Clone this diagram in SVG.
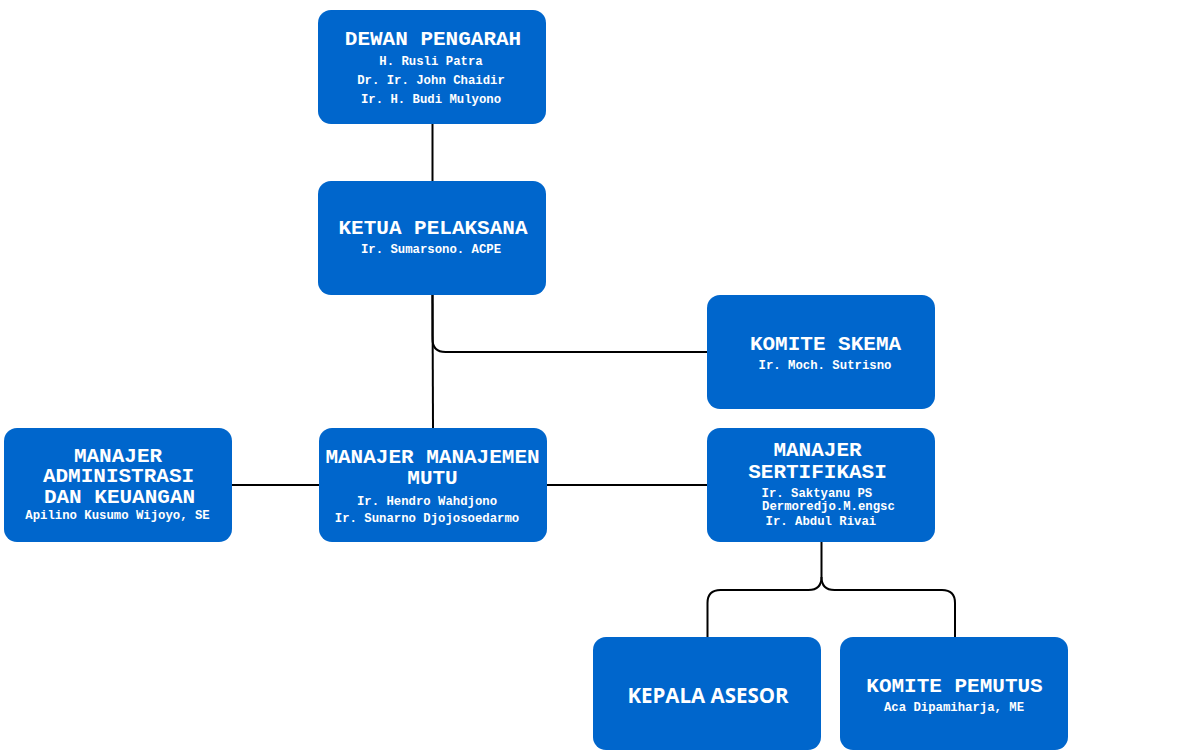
<svg xmlns="http://www.w3.org/2000/svg" width="1182" height="751" viewBox="0 0 1182 751">
<style>
.box{fill:#0066cc}
.t{font-family:"Liberation Mono","DejaVu Sans Mono",monospace;font-weight:bold;font-size:21px;fill:#ffffff;text-anchor:middle}
.s{font-family:"Liberation Mono","DejaVu Sans Mono",monospace;font-weight:bold;font-size:12.3px;fill:#ffffff;text-anchor:middle}
.sl{text-anchor:start}
.p{font-family:"Open Sans","DejaVu Sans",sans-serif;font-weight:bold;font-size:20.5px;fill:#ffffff;text-anchor:middle}
.c{fill:none;stroke:#000000;stroke-width:2}
</style>
<rect width="1182" height="751" fill="#ffffff"/>
<g id="connectors">
<path class="c" d="M432.5,124 V181"/>
<path class="c" d="M432.5,295 L433,428"/>
<path class="c" d="M432.5,295 V339 Q432.5,352 445.5,352 H707"/>
<path class="c" d="M232,485 H319"/>
<path class="c" d="M547,485 H707"/>
<path class="c" d="M821.5,542 V577 Q821.5,590 808.5,590 H720.5 Q707.5,590 707.5,603 V637"/>
<path class="c" d="M821.5,577 Q821.5,590 834.5,590 H942 Q955,590 955,603 V637"/>
</g>
<g id="dewan-pengarah">
<rect class="box" x="318" y="10" width="228" height="114" rx="13"/>
<text class="t" x="433" y="45">DEWAN PENGARAH</text>
<text class="s" x="431" y="65">H. Rusli Patra</text>
<text class="s" x="431" y="84">Dr. Ir. John Chaidir</text>
<text class="s" x="431" y="103">Ir. H. Budi Mulyono</text>
</g>
<g id="ketua-pelaksana">
<rect class="box" x="318" y="181" width="228" height="114" rx="13"/>
<text class="t" x="433" y="234">KETUA PELAKSANA</text>
<text class="s" x="431" y="253">Ir. Sumarsono. ACPE</text>
</g>
<g id="komite-skema">
<rect class="box" x="707" y="295" width="228" height="114" rx="13"/>
<text class="t" x="825.5" y="350">KOMITE SKEMA</text>
<text class="s" x="825" y="369">Ir. Moch. Sutrisno</text>
</g>
<g id="manajer-administrasi">
<rect class="box" x="4" y="428" width="228" height="114" rx="13"/>
<text class="t" x="118" y="462">MANAJER</text>
<text class="t" x="118.5" y="482">ADMINISTRASI</text>
<text class="t" x="119.5" y="503">DAN KEUANGAN</text>
<text class="s" x="117.5" y="519">Apilino Kusumo Wijoyo, SE</text>
</g>
<g id="manajer-mutu">
<rect class="box" x="319" y="428" width="228" height="114" rx="13"/>
<text class="t" x="432.5" y="463">MANAJER MANAJEMEN</text>
<text class="t" x="432.5" y="484">MUTU</text>
<text class="s" x="427" y="504.5">Ir. Hendro Wahdjono</text>
<text class="s" x="427" y="521.5">Ir. Sunarno Djojosoedarmo</text>
</g>
<g id="manajer-sertifikasi">
<rect class="box" x="707" y="428" width="228" height="114" rx="13"/>
<text class="t" x="817.5" y="456">MANAJER</text>
<text class="t" x="817.5" y="478">SERTIFIKASI</text>
<text class="s sl" x="761.5" y="497">Ir. Saktyanu PS</text>
<text class="s sl" x="762" y="509.5">Dermoredjo.M.engsc</text>
<text class="s sl" x="765.5" y="524.5">Ir. Abdul Rivai</text>
</g>
<g id="kepala-asesor">
<rect class="box" x="593" y="637" width="228" height="113" rx="13"/>
<text class="p" x="708" y="703">KEPALA ASESOR</text>
</g>
<g id="komite-pemutus">
<rect class="box" x="840" y="637" width="228" height="113" rx="13"/>
<text class="t" x="954.5" y="692">KOMITE PEMUTUS</text>
<text class="s" x="954" y="711">Aca Dipamiharja, ME</text>
</g>
</svg>
